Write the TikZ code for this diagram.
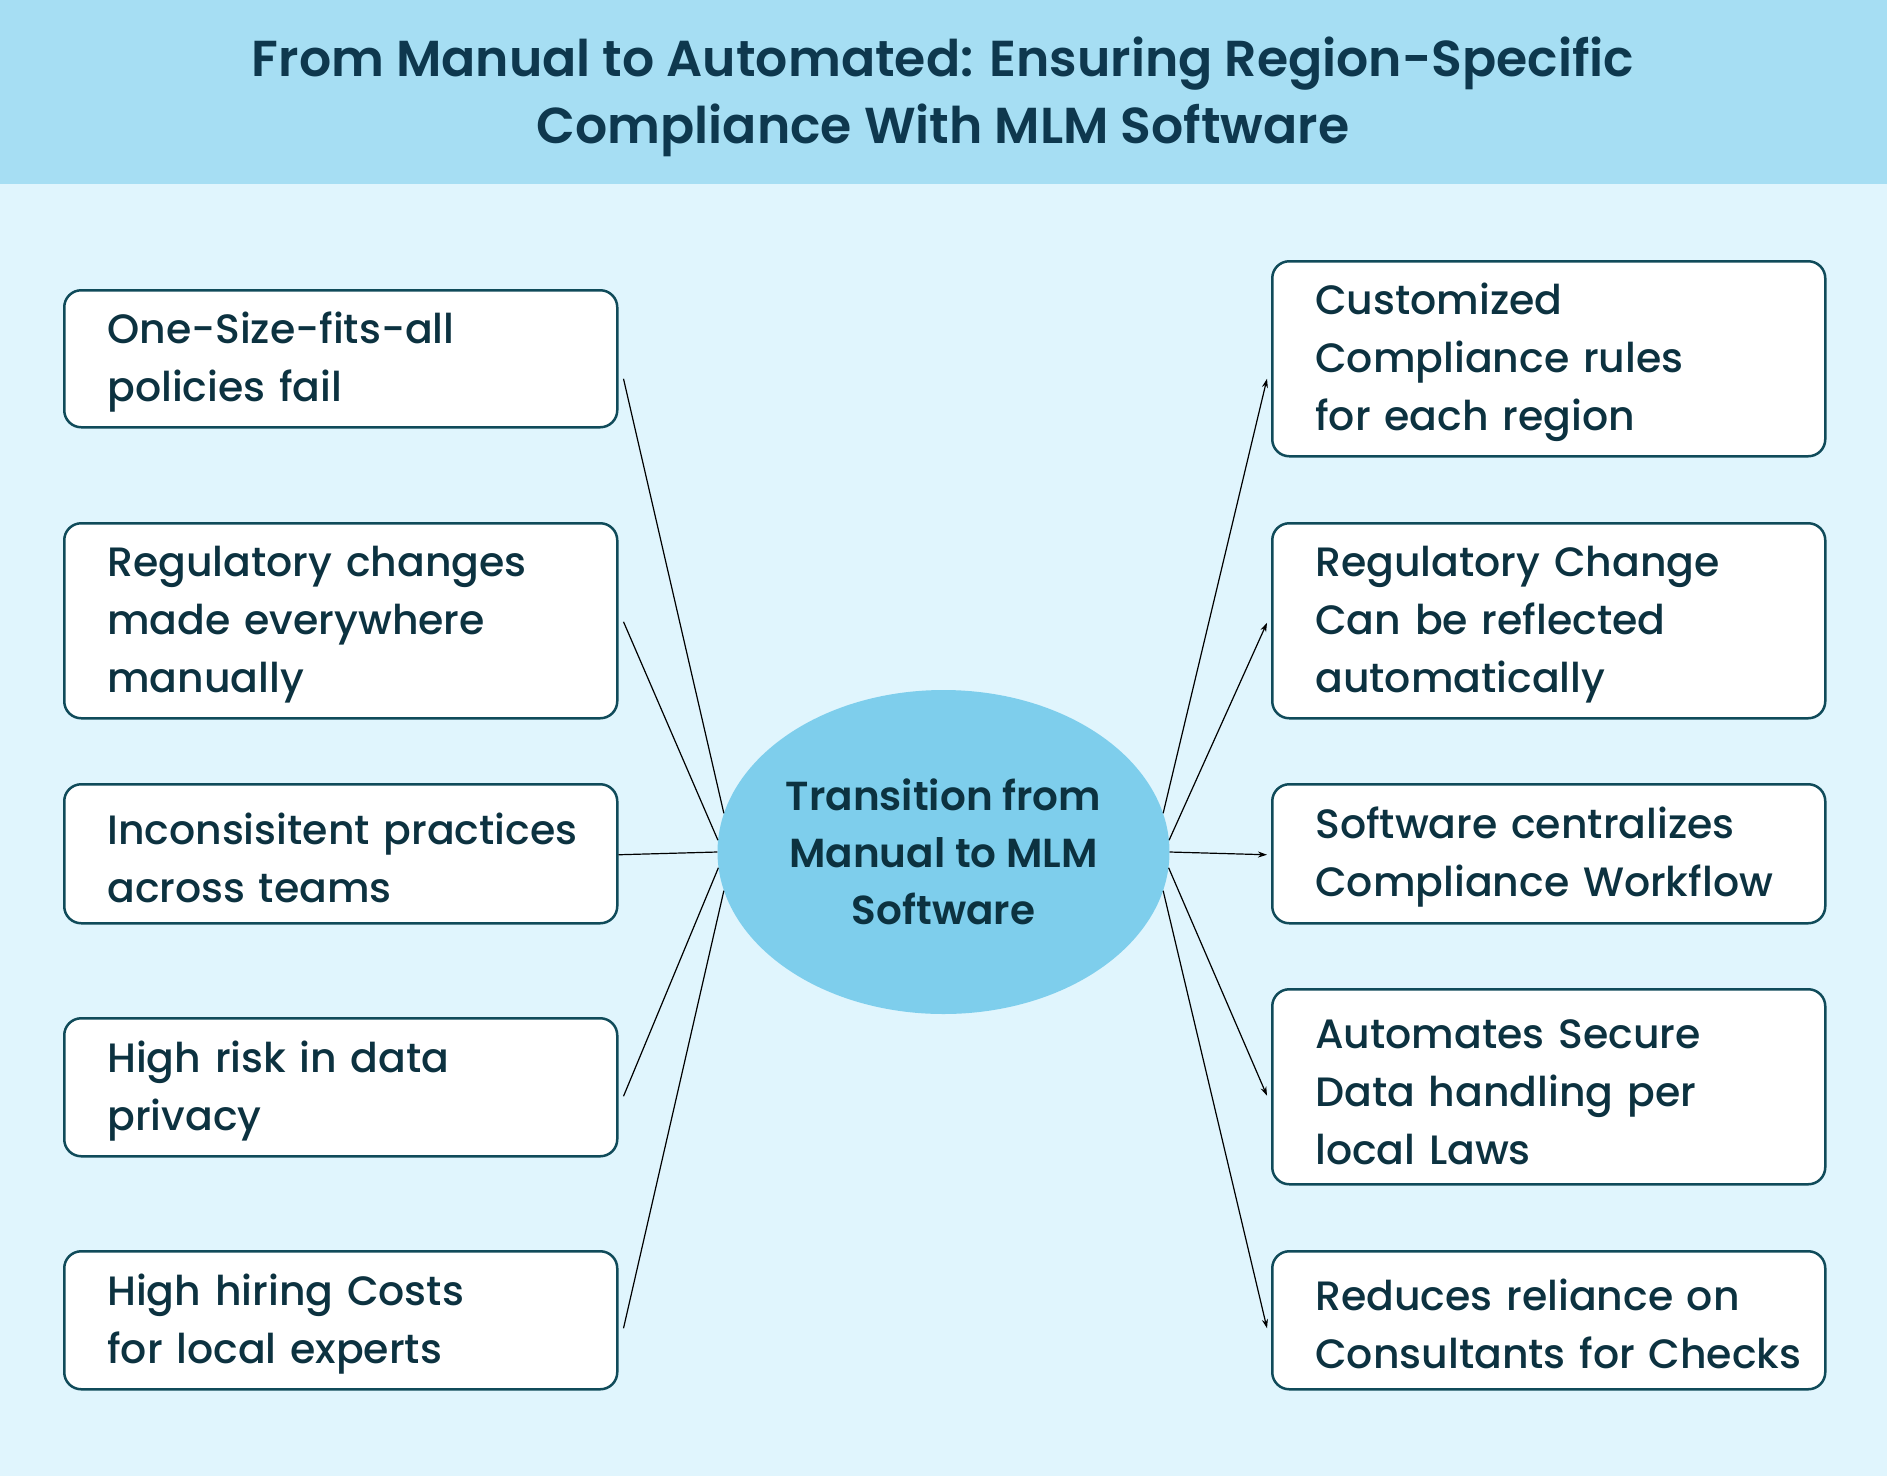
\documentclass[tikz,border=0pt]{standalone}
\usepackage{fontspec}
\setmainfont{Poppins Medium}[BoldFont={Poppins SemiBold}]
\usetikzlibrary{shapes.geometric,arrows.meta,calc}
\definecolor{bandblue}{RGB}{166,222,243}
\definecolor{bgblue}{RGB}{224,245,253}
\definecolor{ellblue}{RGB}{126,206,236}
\definecolor{boxedge}{RGB}{16,75,90}
\definecolor{inktext}{RGB}{12,50,64}
\definecolor{titleink}{RGB}{14,56,78}
\begin{document}
\begin{tikzpicture}[x=1pt,y=-1pt,
  itembox/.style={draw=boxedge, line width=2.5pt, fill=white, rounded corners=17pt,
    anchor=north west, minimum width=553pt, inner xsep=43pt, inner ysep=0pt,
    text width=467pt, align=left, text=inktext, font=\fontsize{41}{58}\selectfont,
    execute at begin node={\rule{0pt}{39pt}}},
  hub/.style={ellipse, fill=ellblue, minimum width=452pt, minimum height=324pt,
    align=center, text=inktext, font=\fontsize{40.5}{57}\selectfont\bfseries, inner sep=0pt},
  link/.style={line width=1.2pt, draw=black},
  arrowlink/.style={link, -{Stealth[length=9pt,width=6pt]}},
  titletext/.style={align=center, text=titleink, font=\fontsize{50.5}{67}\selectfont\bfseries}
]
\useasboundingbox (0,0) rectangle (1887,1476);
\fill[bgblue] (0,0) rectangle (1887,1476);
\fill[bandblue] (0,0) rectangle (1887,184);
\node[titletext] (title) at (943,97) {From Manual to Automated: Ensuring Region-Specific\\Compliance With MLM Software};

\node[hub] (hub) at (943.5,852) {Transition from\\Manual to MLM\\Software};

\node[itembox, minimum height=137pt] (L1) at (63,289) {\mbox{One-Size-fits-all}\\policies fail};
\node[itembox, minimum height=195pt] (L2) at (63,522) {\mbox{Regulatory changes}\\\mbox{made everywhere}\\manually};
\node[itembox, minimum height=139pt] (L3) at (63,783) {\mbox{Inconsisitent practices}\\across teams};
\node[itembox, minimum height=138pt] (L4) at (63,1017) {High risk in data\\privacy};
\node[itembox, minimum height=138pt] (L5) at (63,1250) {\mbox{High hiring Costs}\\for local experts};

\node[itembox, minimum height=195pt] (R1) at (1271,260) {Customized\\\mbox{Compliance rules}\\for each region};
\node[itembox, minimum height=195pt] (R2) at (1271,522) {\mbox{Regulatory Change}\\\mbox{Can be reflected}\\automatically};
\node[itembox, minimum height=139pt] (R3) at (1271,783) {\mbox{Software centralizes}\\\mbox{Compliance Workflow}};
\node[itembox, minimum height=195pt] (R4) at (1271,988) {\mbox{Automates Secure}\\\mbox{Data handling per}\\local Laws};
\node[itembox, minimum height=138pt] (R5) at (1271,1250) {\mbox{Reduces reliance on}\\\mbox{Consultants for Checks}};

\draw[link] ($(L1.east)+(5,20)$) -- (hub.170);
\draw[link] ($(L2.east)+(5,1)$) -- (hub.177);
\draw[link] ($(L3.east)+(0,1)$) -- (hub.180);
\draw[link] ($(L4.east)+(5,9)$) -- (hub.184);
\draw[link] ($(L5.east)+(5,8)$) -- (hub.190);

\draw[arrowlink] (hub.10) -- ($(R1.west)+(-4,20)$);
\draw[arrowlink] (hub.3) -- ($(R2.west)+(-4,2)$);
\draw[arrowlink] (hub.0) -- ($(R3.west)+(-4,1)$);
\draw[arrowlink] (hub.-4) -- ($(R4.west)+(-4,9)$);
\draw[arrowlink] (hub.-10) -- ($(R5.west)+(-4,8)$);
\end{tikzpicture}
\end{document}
